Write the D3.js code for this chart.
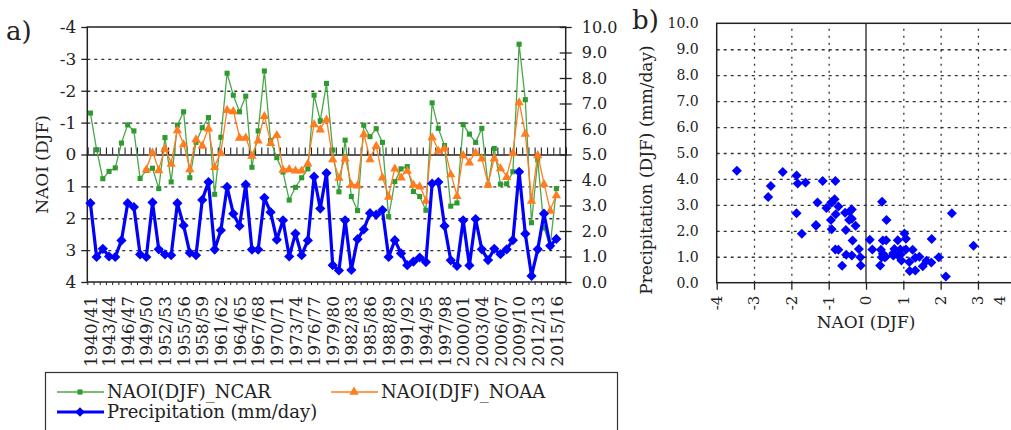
<!DOCTYPE html>
<html><head><meta charset="utf-8">
<script src="https://cdn.jsdelivr.net/npm/d3@7"></script>
<style>
body{margin:0;background:#fff}
svg{display:block}
svg text{font-family:'DejaVu Serif','Liberation Serif','Noto Serif',serif !important;fill:#222}
</style>
</head><body>
<svg id="c" width="1011" height="430"></svg>
<script>
// ---- data ----
const years = ["1940/41","1941/42","1942/43","1943/44","1944/45","1945/46","1946/47","1947/48","1948/49","1949/50",
"1950/51","1951/52","1952/53","1953/54","1954/55","1955/56","1956/57","1957/58","1958/59","1959/60",
"1960/61","1961/62","1962/63","1963/64","1964/65","1965/66","1966/67","1967/68","1968/69","1969/70",
"1970/71","1971/72","1972/73","1973/74","1974/75","1975/76","1976/77","1977/78","1978/79","1979/80",
"1980/81","1981/82","1982/83","1983/84","1984/85","1985/86","1986/87","1987/88","1988/89","1989/90",
"1990/91","1991/92","1992/93","1993/94","1994/95","1995/96","1996/97","1997/98","1998/99","1999/00",
"2000/01","2001/02","2002/03","2003/04","2004/05","2005/06","2006/07","2007/08","2008/09","2009/10",
"2010/11","2011/12","2012/13","2013/14","2014/15","2015/16"];

const naoNCAR = [-1.30,-0.15,0.76,0.53,0.42,-0.36,-0.93,-0.74,0.75,0.50,
0.43,1.07,-0.53,0.86,-0.92,-1.34,0.73,-0.38,-0.84,-1.16,
1.25,-0.54,-2.55,-1.86,-1.34,-1.83,0.40,-0.74,-2.62,-0.44,
0.10,0.55,1.43,1.03,0.73,0.45,-1.86,-1.06,-2.23,-0.14,
1.17,-0.45,1.32,1.76,-0.92,-0.56,-0.81,-0.38,1.95,0.85,
0.45,0.38,1.16,1.32,1.75,-1.62,-0.82,-0.28,1.62,1.52,
-0.94,-0.64,-0.38,-0.82,0.95,-0.19,0.93,0.92,0.54,-3.46,
-1.72,2.14,0.17,2.30,2.88,1.07];

const naoNOAA = [null,null,null,null,null,null,null,null,null,0.45,
-0.08,0.47,-0.20,0.27,-0.78,-0.34,0.44,-0.50,-0.30,-0.84,
0.37,-0.07,-1.42,-1.38,-0.55,-0.55,0.02,-0.46,-1.23,-0.38,
-0.63,0.46,0.44,0.48,0.48,0.26,-0.97,-0.81,-1.12,0.13,
0.71,0.10,0.93,0.95,-0.66,0.13,-0.29,0.70,1.30,0.42,
0.70,0.49,0.93,0.98,1.43,-0.56,-0.14,-0.21,0.60,1.28,
0.00,0.23,-0.08,0.10,0.93,0.10,0.41,0.68,-0.07,-1.66,
-0.67,1.43,0.00,0.90,1.74,1.26];

const precip = [3.09,0.98,1.30,1.00,0.98,1.63,3.09,2.94,1.08,0.98,
3.12,1.28,1.08,1.05,3.09,2.22,1.14,1.05,3.22,3.92,
1.27,2.03,3.73,2.68,2.20,3.82,1.27,1.27,3.30,2.74,
1.66,2.42,1.00,1.90,1.05,1.63,4.13,2.88,4.27,0.66,
0.45,2.42,0.47,1.68,2.06,2.70,2.64,2.82,0.98,1.64,
1.12,0.66,0.80,0.96,0.78,3.86,3.92,2.20,0.85,0.63,
2.42,0.65,2.47,1.28,0.86,1.30,1.09,1.28,1.64,4.32,
1.89,0.24,1.28,2.68,1.42,1.69];

const naoTicks = [-4,-3,-2,-1,0,1,2,3,4];
const precipTicks = [0,1,2,3,4,5,6,7,8,9,10];
const scatterXTicks = [-4,-3,-2,-1,0,1,2,3,4];
const labelEvery = 3;
const legendNames = ["NAOI(DJF)_NCAR","NAOI(DJF)_NOAA","Precipitation (mm/day)"];

// ---- styles ----
const cGreen = "#2f9a2f", cGreenLine = "#4aa84a", cOrange = "#ff7c1f", cBlue = "#0000ff";
const svg = d3.select("#c");

// ================= Panel a =================
const aL = 87.3, aR = 565.7, aT = 27, aB = 282;
const nCat = years.length + 1;
const xA = d3.scaleLinear().domain([-0.5, nCat - 0.5]).range([aL, aR]);
const yN = d3.scaleLinear().domain([-4, 4]).range([aT, aB]);
const yP = d3.scaleLinear().domain([0, 10]).range([aB, aT]);

const ga = svg.append("g");
ga.append("g").attr("transform", `translate(${aL},0)`)
  .call(d3.axisLeft(yN).tickValues([-3,-2,-1,1,2,3]).tickSize(-(aR - aL)).tickFormat(""))
  .call(g => g.select(".domain").remove())
  .call(g => g.selectAll("line").attr("stroke", "#333").attr("stroke-width", 1.3).attr("stroke-dasharray", "3,4"));

ga.append("rect").attr("x", aL).attr("y", aT).attr("width", aR - aL).attr("height", aB - aT)
  .attr("fill", "none").attr("stroke", "#222").attr("stroke-width", 1.5);

ga.append("g").attr("transform", `translate(${aL},0)`)
  .call(d3.axisLeft(yN).tickValues(naoTicks).tickSize(6).tickPadding(5).tickFormat(d => String(d)))
  .call(g => g.select(".domain").remove())
  .call(g => g.selectAll("line").attr("stroke", "#222").attr("stroke-width", 1.3))
  .call(g => g.selectAll("text").attr("font-size", 17).attr("fill", "#222"));

ga.append("g").attr("transform", `translate(${aR},0)`)
  .call(d3.axisRight(yP).tickValues(precipTicks).tickSize(6).tickPadding(10).tickFormat(d => d.toFixed(1)))
  .call(g => g.select(".domain").remove())
  .call(g => g.selectAll("line").attr("x1", -6).attr("stroke", "#222").attr("stroke-width", 1.3))
  .call(g => g.selectAll("text").attr("font-size", 16).attr("fill", "#222"));

const boundaries = d3.range(-0.5, nCat, 1);
ga.append("g").attr("transform", `translate(0,${yN(0)})`)
  .call(d3.axisTop(xA).tickValues(boundaries).tickSize(7).tickFormat(""))
  .call(g => g.select(".domain").attr("stroke", "#222").attr("stroke-width", 1.5))
  .call(g => g.selectAll("line").attr("stroke", "#222").attr("stroke-width", 1.1));
ga.append("g").attr("transform", `translate(0,${aB})`)
  .call(d3.axisBottom(xA).tickValues(boundaries).tickSize(3).tickFormat(""))
  .call(g => g.select(".domain").remove())
  .call(g => g.selectAll("line").attr("stroke", "#222").attr("stroke-width", 1));

const labIdx = d3.range(0, years.length, labelEvery);
ga.append("g").selectAll("text").data(labIdx).join("text")
  .attr("transform", i => `translate(${xA(i)},${aB + 14}) rotate(-90)`)
  .attr("dy", "0.36em").attr("text-anchor", "end").attr("font-size", 17)
  .text(i => years[i]);

ga.append("text").attr("transform", `translate(48,${(aT + aB) / 2 + 10}) rotate(-90)`)
  .attr("text-anchor", "middle").attr("font-size", 17).text("NAOI (DJF)");
ga.append("text").attr("x", 6).attr("y", 40).attr("font-size", 26).text("a)");

const lineN = (arr) => d3.line().defined(d => d != null).x((d, i) => xA(i)).y(d => yN(d))(arr);
ga.append("path").attr("d", lineN(naoNCAR)).attr("fill", "none").attr("stroke", cGreenLine).attr("stroke-width", 1.3);
ga.append("g").selectAll("path").data(naoNCAR.map((v, i) => [i, v])).join("path")
  .attr("transform", d => `translate(${xA(d[0])},${yN(d[1])})`)
  .attr("d", d3.symbol(d3.symbolSquare, 26)).attr("fill", cGreen);

ga.append("path").attr("d", lineN(naoNOAA)).attr("fill", "none").attr("stroke", cOrange).attr("stroke-width", 1.3);
ga.append("g").selectAll("path").data(naoNOAA.map((v, i) => [i, v]).filter(d => d[1] != null)).join("path")
  .attr("transform", d => `translate(${xA(d[0])},${yN(d[1]) + 1})`)
  .attr("d", d3.symbol(d3.symbolTriangle, 38)).attr("fill", cOrange);

const lineP = d3.line().x((d, i) => xA(i)).y(d => yP(d));
ga.append("path").attr("d", lineP(precip)).attr("fill", "none").attr("stroke", cBlue).attr("stroke-width", 3.2).attr("stroke-linejoin", "round");
ga.append("g").selectAll("path").data(precip.map((v, i) => [i, v])).join("path")
  .attr("transform", d => `translate(${xA(d[0])},${yP(d[1])}) rotate(45)`)
  .attr("d", d3.symbol(d3.symbolSquare, 52)).attr("fill", cBlue);

// legend
const lg = svg.append("g");
lg.append("rect").attr("x", 45.5).attr("y", 372.5).attr("width", 572).attr("height", 70)
  .attr("fill", "#fff").attr("stroke", "#333").attr("stroke-width", 1.2);
const r1 = 392, r2 = 412;
lg.append("line").attr("x1", 57).attr("x2", 104).attr("y1", r1).attr("y2", r1).attr("stroke", cGreenLine).attr("stroke-width", 1.5);
lg.append("path").attr("transform", `translate(80,${r1})`).attr("d", d3.symbol(d3.symbolSquare, 26)).attr("fill", cGreen);
lg.append("text").attr("x", 107).attr("y", r1 + 6).attr("font-size", 18).text(legendNames[0]);
lg.append("line").attr("x1", 331).attr("x2", 378).attr("y1", r1).attr("y2", r1).attr("stroke", cOrange).attr("stroke-width", 1.5);
lg.append("path").attr("transform", `translate(354,${r1})`).attr("d", d3.symbol(d3.symbolTriangle, 38)).attr("fill", cOrange);
lg.append("text").attr("x", 381).attr("y", r1 + 6).attr("font-size", 18).text(legendNames[1]);
lg.append("line").attr("x1", 57).attr("x2", 104).attr("y1", r2).attr("y2", r2).attr("stroke", cBlue).attr("stroke-width", 3.2);
lg.append("path").attr("transform", `translate(80,${r2}) rotate(45)`).attr("d", d3.symbol(d3.symbolSquare, 46)).attr("fill", cBlue);
lg.append("text").attr("x", 107).attr("y", r2 + 6).attr("font-size", 18).text(legendNames[2]);

// ================= Panel b =================
const bL = 716.7, bR = 1015.3, bT = 23.3, bB = 282.7;
const xS = d3.scaleLinear().domain([-4, 4]).range([bL, bR]);
const yS = d3.scaleLinear().domain([0, 10]).range([bB, bT]);
const gb = svg.append("g");

gb.append("g").attr("transform", `translate(${bL},0)`)
  .call(d3.axisLeft(yS).tickValues([1,2,3,4,5,6,7,8,9]).tickSize(-(bR - bL)).tickFormat(""))
  .call(g => g.select(".domain").remove())
  .call(g => g.selectAll("line").attr("stroke", "#333").attr("stroke-width", 1.3).attr("stroke-dasharray", "3,4"));
gb.append("g").attr("transform", `translate(0,${bB})`)
  .call(d3.axisTop(xS).tickValues([-3,-2,-1,1,2,3]).tickSize(bB - bT).tickFormat(""))
  .call(g => g.select(".domain").remove())
  .call(g => g.selectAll("line").attr("stroke", "#333").attr("stroke-width", 1.3).attr("stroke-dasharray", "2,5"));

gb.append("rect").attr("x", bL).attr("y", bT).attr("width", bR - bL).attr("height", bB - bT)
  .attr("fill", "none").attr("stroke", "#222").attr("stroke-width", 1.5);
gb.append("line").attr("x1", xS(0)).attr("x2", xS(0)).attr("y1", bT).attr("y2", bB).attr("stroke", "#222").attr("stroke-width", 1.3);

gb.append("g").attr("transform", `translate(${bL},0)`)
  .call(d3.axisLeft(yS).tickValues(precipTicks).tickSize(0).tickPadding(18).tickFormat(d => d.toFixed(1)))
  .call(g => g.select(".domain").remove())
  .call(g => g.selectAll("text").attr("font-size", 14).attr("fill", "#222"));
gb.append("g").attr("transform", `translate(0,${bB})`)
  .call(d3.axisBottom(xS).tickValues(scatterXTicks).tickSize(7).tickFormat(""))
  .call(g => g.select(".domain").remove())
  .call(g => g.selectAll("line").attr("stroke", "#222").attr("stroke-width", 1.3));
gb.append("g").selectAll("text").data(scatterXTicks).join("text")
  .attr("transform", d => `translate(${Math.min(xS(d), 1000)},${bB + 13}) rotate(-90)`)
  .attr("dy", "0.36em").attr("text-anchor", "end").attr("font-size", 15)
  .text(d => String(d));

gb.append("text").attr("x", xS(0)).attr("y", 328).attr("text-anchor", "middle").attr("font-size", 17).text("NAOI (DJF)");
gb.append("text").attr("transform", `translate(652,${(bT + bB) / 2 + 17}) rotate(-90)`)
  .attr("text-anchor", "middle").attr("font-size", 17).text("Precipitation (DJF) (mm/day)");
gb.append("text").attr("x", 632).attr("y", 29).attr("font-size", 26).text("b)");

gb.append("g").selectAll("path").data(naoNCAR.map((v, i) => [v, precip[i]])).join("path")
  .attr("transform", d => `translate(${xS(d[0])},${yS(d[1])}) rotate(45)`)
  .attr("d", d3.symbol(d3.symbolSquare, 50)).attr("fill", cBlue);
</script>
</body></html>
